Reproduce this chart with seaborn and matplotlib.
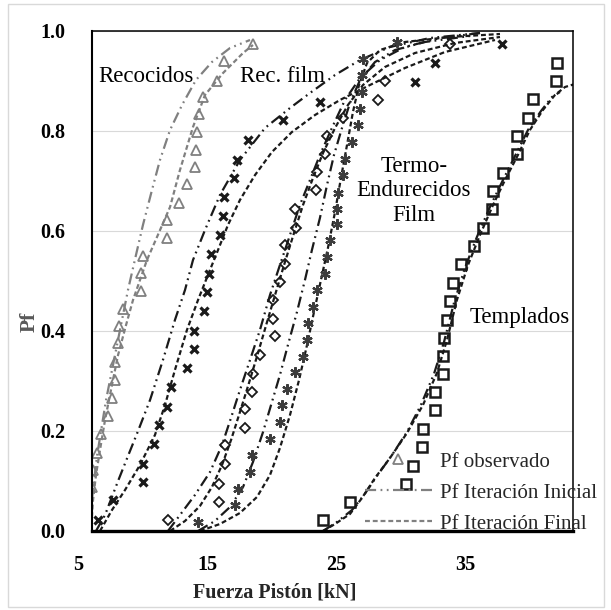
import matplotlib
matplotlib.use("Agg")
import matplotlib.pyplot as plt
import seaborn as sns
from matplotlib.transforms import ScaledTranslation
from matplotlib.patches import Rectangle

# ---------------- data ----------------
# Recocidos (gray triangles)
rec_obs_x = [17.48, 15.23, 14.67, 13.58, 13.32, 13.12, 13.06, 12.96, 12.39, 11.77, 10.84, 10.79, 8.93,
             8.82, 8.78, 7.38, 7.12, 7.04, 6.78, 6.78, 6.53, 6.26, 5.67, 5.36, 5.10, 5.00]
rec_obs_y = [0.974, 0.94, 0.90, 0.868, 0.834, 0.798, 0.762, 0.729, 0.694, 0.657, 0.622, 0.586, 0.551,
             0.516, 0.48, 0.444, 0.41, 0.376, 0.339, 0.302, 0.266, 0.23, 0.194, 0.157, 0.122, 0.088]
rec_ini_x = [4.95, 5.16, 5.39, 5.70, 6.09, 6.63, 7.17, 7.79, 8.41, 8.95, 9.65, 10.27, 11.05, 11.98,
             13.06, 14.30, 15.70, 17.25]
rec_ini_y = [0.052, 0.10, 0.15, 0.20, 0.262, 0.332, 0.402, 0.482, 0.552, 0.612, 0.682, 0.742, 0.802,
             0.852, 0.902, 0.938, 0.966, 0.982]
rec_fin_x = [4.95, 5.08, 5.31, 5.62, 6.01, 6.47, 7.02, 7.64, 8.18, 8.72, 9.26, 10.04, 11.05, 11.82,
             12.83, 13.76, 15.16, 16.71, 17.48]
rec_fin_y = [0.012, 0.062, 0.112, 0.162, 0.222, 0.282, 0.352, 0.412, 0.462, 0.502, 0.542, 0.588, 0.648,
             0.722, 0.808, 0.872, 0.916, 0.956, 0.972]

# Rec. film (black x)
rf_obs_x = [5.49, 6.65, 8.98, 8.98, 9.81, 10.19, 10.84, 11.10, 12.39, 12.93, 12.93, 13.68, 13.89, 14.09,
            14.20, 14.92, 15.13, 15.23, 16.01, 16.26, 17.12, 19.83, 22.67, 30.04, 31.59, 36.76]
rf_obs_y = [0.022, 0.062, 0.099, 0.135, 0.174, 0.212, 0.249, 0.288, 0.326, 0.364, 0.40, 0.44, 0.479,
            0.515, 0.554, 0.592, 0.631, 0.669, 0.707, 0.743, 0.782, 0.822, 0.859, 0.899, 0.937, 0.974]
rf_ini_x = [5.31, 6.01, 7.02, 7.79, 8.57, 9.50, 10.50, 11.43, 12.21, 12.83, 13.76, 14.92, 16.47, 18.41,
            20.35, 21.90, 23.84, 25.78, 28.10, 31.20, 35.08]
rf_ini_y = [0.0, 0.032, 0.10, 0.15, 0.20, 0.262, 0.342, 0.422, 0.482, 0.542, 0.602, 0.672, 0.742, 0.806,
            0.846, 0.876, 0.912, 0.942, 0.968, 0.986, 0.996]
rf_fin_x = [5.62, 6.55, 7.56, 8.72, 9.88, 10.66, 11.43, 12.36, 13.22, 13.99, 14.77, 15.54, 16.47, 17.64,
            18.95, 20.50, 22.29, 24.22, 26.55, 29.26, 32.36, 36.24]
rf_fin_y = [0.0, 0.042, 0.082, 0.132, 0.192, 0.252, 0.322, 0.402, 0.462, 0.512, 0.562, 0.612, 0.662,
            0.712, 0.758, 0.798, 0.832, 0.862, 0.892, 0.926, 0.958, 0.982]

# Termo-Endurecidos (diamonds)
te_obs_x = [10.91, 14.87, 14.87, 15.31, 15.31, 16.86, 16.86, 17.38, 17.50, 18.02, 19.19, 19.05, 19.05,
            19.57, 19.96, 19.96, 20.81, 20.74, 22.36, 22.42, 23.06, 23.24, 24.48, 27.19, 27.71, 32.75]
te_obs_y = [0.022, 0.059, 0.095, 0.134, 0.172, 0.206, 0.244, 0.279, 0.315, 0.352, 0.39, 0.425, 0.462,
            0.499, 0.535, 0.572, 0.607, 0.644, 0.682, 0.719, 0.755, 0.79, 0.827, 0.863, 0.90, 0.975]
te_ini_x = [10.89, 11.82, 12.98, 14.15, 15.08, 15.85, 16.47, 17.25, 18.02, 18.80, 19.57, 20.35, 21.12,
            21.90, 22.67, 23.60, 24.61, 25.78, 27.33, 29.26, 31.98, 35.08]
te_ini_y = [0.0, 0.032, 0.072, 0.118, 0.172, 0.232, 0.282, 0.342, 0.402, 0.472, 0.532, 0.592, 0.652,
            0.702, 0.752, 0.806, 0.862, 0.906, 0.942, 0.968, 0.986, 0.996]
te_fin_x = [11.05, 12.21, 13.37, 14.30, 15.08, 15.78, 16.47, 17.17, 17.87, 18.57, 19.26, 19.96, 20.66,
            21.36, 22.13, 22.91, 23.84, 24.84, 26.01, 27.71, 30.04, 33.14, 36.63]
te_fin_y = [0.0, 0.02, 0.05, 0.088, 0.132, 0.182, 0.238, 0.296, 0.356, 0.418, 0.478, 0.538, 0.596,
            0.652, 0.706, 0.756, 0.806, 0.852, 0.892, 0.928, 0.956, 0.976, 0.988]

# Termo-Endurecidos Film (asterisks)
tf_obs_x = [13.24, 16.09, 16.34, 17.25, 17.38, 18.80, 19.57, 19.71, 20.09, 20.74, 21.38, 21.69, 21.77,
            22.16, 22.47, 23.06, 23.19, 23.45, 23.97, 23.97, 24.09, 24.48, 24.61, 25.13, 25.64, 25.78,
            25.91, 25.91, 26.03, 28.62]
tf_obs_y = [0.019, 0.052, 0.085, 0.119, 0.152, 0.185, 0.219, 0.252, 0.285, 0.319, 0.349, 0.382, 0.417,
            0.449, 0.482, 0.515, 0.549, 0.582, 0.615, 0.645, 0.677, 0.712, 0.745, 0.779, 0.812, 0.845,
            0.879, 0.912, 0.945, 0.979]
tf_ini_x = [13.22, 14.53, 15.70, 16.71, 17.48, 18.26, 18.95, 19.57, 20.19, 20.89, 21.51, 22.05, 22.67,
            23.22, 23.76, 24.38, 25.00, 25.78, 26.94, 28.49, 30.81, 34.30]
tf_ini_y = [0.0, 0.02, 0.048, 0.088, 0.138, 0.198, 0.258, 0.312, 0.372, 0.438, 0.502, 0.562, 0.626,
            0.692, 0.752, 0.806, 0.856, 0.902, 0.938, 0.962, 0.978, 0.99]
tf_fin_x = [13.37, 14.92, 16.47, 17.79, 18.80, 19.57, 20.35, 21.05, 21.67, 22.21, 22.75, 23.29, 23.84,
            24.30, 24.77, 25.23, 25.70, 26.32, 27.33, 29.26, 32.75, 36.63]
tf_fin_y = [0.0, 0.014, 0.036, 0.068, 0.112, 0.166, 0.232, 0.302, 0.372, 0.438, 0.502, 0.566, 0.638,
            0.706, 0.772, 0.838, 0.892, 0.936, 0.962, 0.978, 0.988, 0.994]

# Templados (squares)
tp_obs_x = [22.93, 25.00, 29.34, 29.86, 30.56, 30.64, 31.59, 31.59, 32.19, 32.23, 32.29, 32.50, 32.75,
            32.96, 33.58, 34.61, 35.29, 35.98, 36.11, 36.84, 37.92, 37.97, 38.82, 39.21, 40.97, 41.02]
tp_obs_y = [0.022, 0.059, 0.094, 0.131, 0.169, 0.205, 0.242, 0.279, 0.315, 0.35, 0.387, 0.423, 0.461,
            0.497, 0.534, 0.571, 0.607, 0.644, 0.681, 0.717, 0.754, 0.79, 0.827, 0.864, 0.90, 0.937]
tp_ini_x = [22.91, 23.99, 25.16, 26.09, 27.09, 28.26, 29.42, 30.50, 31.51, 32.29, 33.06, 33.91, 34.84,
            35.85, 36.86, 37.87, 38.80, 39.81, 40.66, 41.28]
tp_ini_y = [0.0, 0.018, 0.042, 0.072, 0.11, 0.152, 0.198, 0.252, 0.314, 0.378, 0.456, 0.526, 0.588,
            0.648, 0.702, 0.754, 0.802, 0.84, 0.868, 0.878]
tp_fin_x = [22.91, 23.84, 25.00, 25.93, 26.94, 28.10, 29.42, 30.66, 31.74, 32.52, 33.29, 34.15, 35.08,
            36.09, 37.02, 38.02, 38.95, 39.96, 40.89, 41.67, 42.44]
tp_fin_y = [0.0, 0.014, 0.034, 0.066, 0.106, 0.146, 0.196, 0.252, 0.316, 0.382, 0.462, 0.532, 0.592,
            0.652, 0.702, 0.752, 0.802, 0.842, 0.872, 0.888, 0.894]

x_ticks = [5, 15, 25, 35]
y_ticks = [0.0, 0.2, 0.4, 0.6, 0.8, 1.0]
legend_labels = ["Pf observado", "Pf Iteración Inicial", "Pf Iteración Final"]

# ---------------- style ----------------
sns.set_style("white")
plt.rcParams['font.family'] = ['Liberation Serif', 'DejaVu Serif']

W, H = 611, 610
fig = plt.figure(figsize=(W / 100, H / 100), dpi=100)
ax = fig.add_axes([92 / W, 1 - 531 / H, 481 / W, 500 / H])

GRAY = '#808080'
BLACK = '#1a1a1a'
INIT = (0, (5, 2, 0.8, 2, 0.8, 2))
FINAL = (0, (2.2, 1.3))
LW = 1.6


def curve(x, y, color, ls, label=None):
    sns.lineplot(x=x, y=y, ax=ax, color=color, linestyle=ls, linewidth=LW,
                 estimator=None, sort=False, label=label, legend=False)


def points(x, y, marker, ms, color, mew, filled=False, label=None):
    sns.lineplot(x=x, y=y, ax=ax, linestyle='none', marker=marker, markersize=ms,
                 markeredgecolor=color, markerfacecolor=(color if filled else 'none'),
                 markeredgewidth=mew, color=color, estimator=None, sort=False,
                 label=label, legend=False)


# curves
curve(rec_ini_x, rec_ini_y, GRAY, INIT, legend_labels[1])
curve(rec_fin_x, rec_fin_y, GRAY, FINAL, legend_labels[2])
curve(rf_ini_x, rf_ini_y, BLACK, INIT)
curve(rf_fin_x, rf_fin_y, BLACK, FINAL)
curve(te_ini_x, te_ini_y, BLACK, INIT)
curve(te_fin_x, te_fin_y, BLACK, FINAL)
curve(tf_ini_x, tf_ini_y, BLACK, INIT)
curve(tf_fin_x, tf_fin_y, BLACK, FINAL)
curve(tp_ini_x, tp_ini_y, BLACK, INIT)
curve(tp_fin_x, tp_fin_y, BLACK, FINAL)

# observed points
points(rec_obs_x, rec_obs_y, '^', 6.5, GRAY, 1.3, label=legend_labels[0])
points(rf_obs_x, rf_obs_y, 'x', 5.5, BLACK, 2.3)
points(te_obs_x, te_obs_y, 'D', 4.8, BLACK, 1.3)
points(tf_obs_x, tf_obs_y, (6, 2, 0), 7.5, '#3c3c3c', 1.6)
points(tp_obs_x, tp_obs_y, 's', 6.5, BLACK, 1.8)

# axes
ax.set_xlim(5, 42.29)
ax.set_ylim(0, 1)
ax.set_xticks(x_ticks)
ax.set_yticks(y_ticks)
ax.set_yticklabels([f"{v:.1f}" for v in y_ticks])
ax.set_xlabel('')
ax.set_ylabel('')
ax.tick_params(axis='both', length=0, labelsize=14.5, labelcolor='black')
ax.tick_params(axis='x', pad=17)
ax.tick_params(axis='y', pad=19)
for lab in ax.get_xticklabels() + ax.get_yticklabels():
    lab.set_fontweight('bold')
ax.yaxis.grid(True, color='#d9d9d9', linewidth=0.8)
ax.xaxis.grid(False)
ax.set_axisbelow(True)
for side, w in (('left', 1.5), ('bottom', 2.4), ('top', 1.1), ('right', 1.1)):
    ax.spines[side].set_visible(True)
    ax.spines[side].set_color('black')
    ax.spines[side].set_linewidth(w)

# annotations
TXT = dict(fontsize=16.5, color='black', family=['Liberation Serif', 'DejaVu Serif'])
ax.text(5.47, 0.908, 'Recocidos', ha='left', va='center', **TXT)
ax.text(16.47, 0.910, 'Rec. film', ha='left', va='center', **TXT)
ax.text(29.96, 0.680, 'Termo-\nEndurecidos\nFilm', ha='center', va='center', linespacing=1.22, **TXT)
ax.text(34.30, 0.426, 'Templados', ha='left', va='center', **TXT)

# legend
handles, labels = ax.get_legend_handles_labels()
hmap = dict(zip(labels, handles))
leg = ax.legend([hmap[l] for l in legend_labels], legend_labels,
                loc='upper left', bbox_to_anchor=((365 - 92) / 481, (531 - 452) / 500),
                frameon=False, prop={'family': 'Liberation Serif', 'size': 15},
                handlelength=3.2, handletextpad=0.4, labelspacing=0.55,
                borderpad=0, borderaxespad=0)

# axis titles
fig.text(30 / W, 1 - 322 / H, 'Pf', rotation=90, color='#595959', fontweight='bold',
         fontsize=15.5, ha='center', va='center')
fig.text(275 / W, 1 - 592 / H, 'Fuerza Pistón [kN]', fontweight='bold', fontsize=14.5,
         ha='center', va='center')

# chart-area border
fig.patches.append(Rectangle((8 / W, 3 / H), (604 - 8) / W, (606 - 3) / H, transform=fig.transFigure,
                             fill=False, edgecolor='#d9d9d9', linewidth=1.0))

# shift x tick labels like the reference
off = ScaledTranslation(-14 / 100, 0, fig.dpi_scale_trans)
for lab in ax.get_xticklabels():
    lab.set_transform(lab.get_transform() + off)

fig.savefig('out.png', dpi=100)
